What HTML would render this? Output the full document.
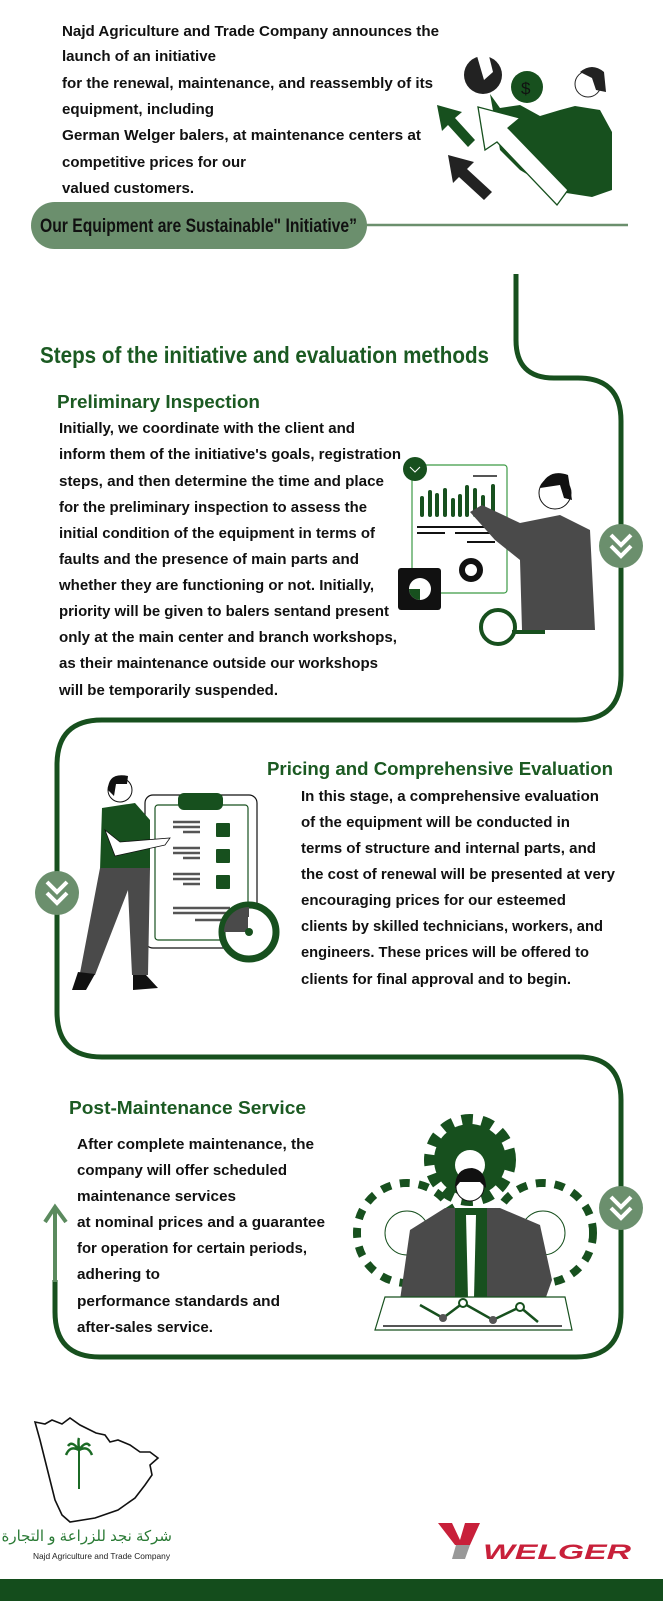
<!DOCTYPE html>
<html><head><meta charset="utf-8"><style>
html,body{margin:0;padding:0;background:#fff;}
body{position:relative;width:663px;height:1601px;overflow:hidden;}
svg{display:block;}
text{font-family:"Liberation Sans",sans-serif;}
.b{font-weight:bold;font-size:14.5px;fill:#111;}
.h{font-weight:bold;fill:#1b5a22;font-size:18.5px;}
#ar{position:absolute;left:30px;top:1528px;width:142px;text-align:center;direction:rtl;font-family:"Liberation Sans","Noto Sans CJK SC","DejaVu Sans",sans-serif;font-size:15px;line-height:18px;color:#2a7a35;white-space:nowrap;}
</style></head><body>
<svg width="663" height="1601" viewBox="0 0 663 1601" xmlns="http://www.w3.org/2000/svg">
<text x="62" y="36" textLength="377" lengthAdjust="spacingAndGlyphs" class="b">Najd Agriculture and Trade Company announces the</text>
<text x="62" y="61" textLength="154" lengthAdjust="spacingAndGlyphs" class="b">launch of an initiative</text>
<text x="62" y="88" textLength="371" lengthAdjust="spacingAndGlyphs" class="b">for the renewal, maintenance, and reassembly of its</text>
<text x="62" y="114" textLength="152" lengthAdjust="spacingAndGlyphs" class="b">equipment, including</text>
<text x="62" y="140" textLength="359" lengthAdjust="spacingAndGlyphs" class="b">German Welger balers, at maintenance centers at</text>
<text x="62" y="167" textLength="184" lengthAdjust="spacingAndGlyphs" class="b">competitive prices for our</text>
<text x="62" y="193" textLength="132" lengthAdjust="spacingAndGlyphs" class="b">valued customers.</text>
<rect x="31" y="202" width="336" height="47" rx="23.5" fill="#6b8f6d"/>
<line x1="366" y1="225" x2="628" y2="225" stroke="#6b8f6d" stroke-width="2.5"/>
<text x="40" y="232" textLength="317" lengthAdjust="spacingAndGlyphs" style="font-weight:bold;font-size:19px;fill:#111">Our Equipment are Sustainable" Initiative”</text>

<g>
<polygon points="437,105 462,112 455,118 475,140 468,147 448,125 442,131" fill="#17501e"/>
<polygon points="448,155 474,162 467,169 492,192 484,200 459,177 453,183" fill="#222"/>
<circle cx="483" cy="75" r="19" fill="#222"/>
<polygon points="477,56 489,56 493,72 484,80" fill="#fff"/>
<path d="M490,94 L500,108 L520,105 L540,116 L560,110 L575,106 L600,110 L612,132 L612,190 L592,197 L560,192 L545,185 L520,170 L500,150 Z" fill="#17501e"/>
<circle cx="527" cy="87" r="16" fill="#17501e"/>
<text x="521" y="94" style="font-size:17px;fill:#111">$</text>
<circle cx="588" cy="84" r="13" fill="#fff" stroke="#222" stroke-width="1"/>
<path d="M580,72 Q592,62 604,72 L606,92 L596,90 L592,78 Z" fill="#222"/>
<path d="M478,107 L520,118 L508,128 L568,190 L557,205 L497,142 L485,150 Z" fill="#fff" stroke="#17501e" stroke-width="1.3"/>
</g>

<path d="M516,274 V340 Q516,378 554,378 H578 Q621,378 621,421 V675 Q621,720 576,720 H102 Q57,720 57,765 V1012 Q57,1057 102,1057 H578 Q621,1057 621,1100 V1312 Q621,1357 576,1357 H100 Q55,1357 55,1312 V1280" fill="none" stroke="#17501e" stroke-width="5"/>
<path d="M55,1282 V1210 M45,1222 L55,1207 L66,1222" fill="none" stroke="#5b8a5e" stroke-width="4"/>

<text x="40" y="363" textLength="449" lengthAdjust="spacingAndGlyphs" style="font-weight:bold;font-size:23px;fill:#1b5a22">Steps of the initiative and evaluation methods</text>

<circle cx="621" cy="546" r="22" fill="#6b8f6d"/>
<path d="M611,535 L621,545 L631,535 M611,546 L621,556 L631,546" fill="none" stroke="#fff" stroke-width="4"/>
<circle cx="57" cy="893" r="22" fill="#6b8f6d"/>
<path d="M47,882 L57,892 L67,882 M47,893 L57,903 L67,893" fill="none" stroke="#fff" stroke-width="4"/>
<circle cx="621" cy="1208" r="22" fill="#6b8f6d"/>
<path d="M611,1197 L621,1207 L631,1197 M611,1208 L621,1218 L631,1208" fill="none" stroke="#fff" stroke-width="4"/>

<text x="57" y="408" textLength="203" lengthAdjust="spacingAndGlyphs" class="h">Preliminary Inspection</text>
<text x="59" y="433" textLength="296" lengthAdjust="spacingAndGlyphs" class="b">Initially, we coordinate with the client and</text>
<text x="59" y="459" textLength="342" lengthAdjust="spacingAndGlyphs" class="b">inform them of the initiative's goals, registration</text>
<text x="59" y="486" textLength="325" lengthAdjust="spacingAndGlyphs" class="b">steps, and then determine the time and place</text>
<text x="59" y="512" textLength="308" lengthAdjust="spacingAndGlyphs" class="b">for the preliminary inspection to assess the</text>
<text x="59" y="538" textLength="316" lengthAdjust="spacingAndGlyphs" class="b">initial condition of the equipment in terms of</text>
<text x="59" y="564" textLength="300" lengthAdjust="spacingAndGlyphs" class="b">faults and the presence of main parts and</text>
<text x="59" y="590" textLength="315" lengthAdjust="spacingAndGlyphs" class="b">whether they are functioning or not. Initially,</text>
<text x="59" y="616" textLength="330" lengthAdjust="spacingAndGlyphs" class="b">priority will be given to balers sentand present</text>
<text x="59" y="642" textLength="338" lengthAdjust="spacingAndGlyphs" class="b">only at the main center and branch workshops,</text>
<text x="59" y="668" textLength="319" lengthAdjust="spacingAndGlyphs" class="b">as their maintenance outside our workshops</text>
<text x="59" y="695" textLength="219" lengthAdjust="spacingAndGlyphs" class="b">will be temporarily suspended.</text>

<g>
<rect x="412" y="465" width="95" height="128" rx="3" fill="#fff" stroke="#3c9a45" stroke-width="1.2"/>
<circle cx="415" cy="469" r="12" fill="#17501e"/>
<path d="M410,467 L415,472 L420,467" stroke="#fff" fill="none" stroke-width="1"/>
<line x1="473" y1="476" x2="497" y2="476" stroke="#555" stroke-width="2"/>
<g stroke="#17501e" stroke-width="4" stroke-linecap="round">
<line x1="422" y1="498" x2="422" y2="515"/><line x1="430" y1="492" x2="430" y2="515"/><line x1="437" y1="495" x2="437" y2="515"/><line x1="445" y1="490" x2="445" y2="515"/><line x1="453" y1="500" x2="453" y2="515"/><line x1="460" y1="496" x2="460" y2="515"/><line x1="467" y1="487" x2="467" y2="515"/><line x1="475" y1="490" x2="475" y2="515"/><line x1="483" y1="497" x2="483" y2="515"/><line x1="493" y1="486" x2="493" y2="515"/>
</g>
<g stroke="#111" stroke-width="2"><line x1="417" y1="527" x2="497" y2="527"/><line x1="417" y1="533" x2="445" y2="533"/><line x1="455" y1="533" x2="497" y2="533"/><line x1="467" y1="542" x2="495" y2="542"/></g>
<circle cx="471" cy="570" r="9" fill="none" stroke="#111" stroke-width="6"/>
<rect x="398" y="568" width="43" height="42" rx="3" fill="#111"/>
<circle cx="420" cy="589" r="11" fill="#fff"/>
<path d="M420,589 V600 A11,11 0 0 1 409,589 Z" fill="#17501e"/>
<path d="M470,512 L482,505 L520,523 L560,515 L590,530 L595,630 L522,630 L520,560 L495,540 Z" fill="#4a4a4a"/>
<circle cx="555" cy="493" r="16" fill="#fff" stroke="#111" stroke-width="1"/>
<path d="M540,488 Q548,468 568,475 L572,500 L564,498 L560,485 Z" fill="#111"/>
<circle cx="498" cy="627" r="17" fill="none" stroke="#17501e" stroke-width="4"/>
<line x1="512" y1="632" x2="545" y2="632" stroke="#17501e" stroke-width="4"/>
</g>

<text x="267" y="775" textLength="346" lengthAdjust="spacingAndGlyphs" class="h">Pricing and Comprehensive Evaluation</text>
<text x="301" y="801" textLength="298" lengthAdjust="spacingAndGlyphs" class="b">In this stage, a comprehensive evaluation</text>
<text x="301" y="827" textLength="269" lengthAdjust="spacingAndGlyphs" class="b">of the equipment will be conducted in</text>
<text x="301" y="853" textLength="295" lengthAdjust="spacingAndGlyphs" class="b">terms of structure and internal parts, and</text>
<text x="301" y="879" textLength="314" lengthAdjust="spacingAndGlyphs" class="b">the cost of renewal will be presented at very</text>
<text x="301" y="905" textLength="265" lengthAdjust="spacingAndGlyphs" class="b">encouraging prices for our esteemed</text>
<text x="301" y="931" textLength="302" lengthAdjust="spacingAndGlyphs" class="b">clients by skilled technicians, workers, and</text>
<text x="301" y="957" textLength="288" lengthAdjust="spacingAndGlyphs" class="b">engineers. These prices will be offered to</text>
<text x="301" y="984" textLength="270" lengthAdjust="spacingAndGlyphs" class="b">clients for final approval and to begin.</text>

<g>
<rect x="145" y="795" width="112" height="153" rx="8" fill="#fff" stroke="#111" stroke-width="1.2"/>
<rect x="155" y="805" width="93" height="135" rx="3" fill="none" stroke="#17501e" stroke-width="1.2"/>
<rect x="178" y="793" width="45" height="17" rx="6" fill="#17501e"/>
<g stroke="#555" stroke-width="2.5">
<line x1="173" y1="822" x2="200" y2="822"/><line x1="173" y1="827" x2="200" y2="827"/><line x1="183" y1="832" x2="200" y2="832"/>
<line x1="173" y1="848" x2="200" y2="848"/><line x1="173" y1="853" x2="200" y2="853"/><line x1="183" y1="858" x2="200" y2="858"/>
<line x1="173" y1="874" x2="200" y2="874"/><line x1="173" y1="879" x2="200" y2="879"/><line x1="183" y1="884" x2="200" y2="884"/>
<line x1="173" y1="908" x2="230" y2="908"/><line x1="173" y1="913" x2="230" y2="913"/><line x1="195" y1="920" x2="230" y2="920"/>
</g>
<rect x="216" y="823" width="14" height="14" rx="1" fill="#17501e"/>
<rect x="216" y="849" width="14" height="14" rx="1" fill="#17501e"/>
<rect x="216" y="875" width="14" height="14" rx="1" fill="#17501e"/>
<circle cx="249" cy="932" r="27" fill="#fff" stroke="#17501e" stroke-width="7"/>
<path d="M249,932 V907 A25,25 0 0 0 224,932 Z" fill="#4a4a4a"/>
<line x1="249" y1="932" x2="249" y2="917" stroke="#fff" stroke-width="2"/>
<circle cx="249" cy="932" r="4" fill="#17501e"/>
<path d="M102,808 L135,803 L150,820 L150,870 L100,870 Z" fill="#17501e"/>
<path d="M105,830 L115,856 L165,845 L170,838 L120,842 Z" fill="#fff" stroke="#111" stroke-width="0.8"/>
<path d="M100,868 L150,868 L148,975 L132,975 L128,890 L95,975 L80,973 Z" fill="#4a4a4a"/>
<path d="M78,972 L95,974 L86,990 L72,990 Z" fill="#111"/>
<path d="M133,975 L146,975 L158,988 L133,990 Z" fill="#111"/>
<circle cx="120" cy="790" r="12" fill="#fff" stroke="#111" stroke-width="1"/>
<path d="M108,790 Q108,772 128,776 L127,784 L116,784 L114,796 Z" fill="#111"/>
</g>

<text x="69" y="1114" textLength="237" lengthAdjust="spacingAndGlyphs" class="h">Post-Maintenance Service</text>
<text x="77" y="1149" textLength="237" lengthAdjust="spacingAndGlyphs" class="b">After complete maintenance, the</text>
<text x="77" y="1175" textLength="210" lengthAdjust="spacingAndGlyphs" class="b">company will offer scheduled</text>
<text x="77" y="1201" textLength="159" lengthAdjust="spacingAndGlyphs" class="b">maintenance services</text>
<text x="77" y="1227" textLength="248" lengthAdjust="spacingAndGlyphs" class="b">at nominal prices and a guarantee</text>
<text x="77" y="1253" textLength="230" lengthAdjust="spacingAndGlyphs" class="b">for operation for certain periods,</text>
<text x="77" y="1279" textLength="83" lengthAdjust="spacingAndGlyphs" class="b">adhering to</text>
<text x="77" y="1306" textLength="203" lengthAdjust="spacingAndGlyphs" class="b">performance standards and</text>
<text x="77" y="1332" textLength="136" lengthAdjust="spacingAndGlyphs" class="b">after-sales service.</text>

<g>
<circle cx="407" cy="1233" r="50" fill="#fff" stroke="#17501e" stroke-width="8" stroke-dasharray="10 9"/>
<circle cx="407" cy="1233" r="46" fill="#fff"/>
<circle cx="407" cy="1233" r="22" fill="none" stroke="#17501e" stroke-width="1"/>
<circle cx="543" cy="1233" r="50" fill="#fff" stroke="#17501e" stroke-width="8" stroke-dasharray="10 9"/>
<circle cx="543" cy="1233" r="46" fill="#fff"/>
<circle cx="543" cy="1233" r="22" fill="none" stroke="#17501e" stroke-width="1"/>
<circle cx="470" cy="1160" r="40" fill="none" stroke="#17501e" stroke-width="12" stroke-dasharray="11 9"/>
<circle cx="470" cy="1160" r="36" fill="#17501e"/>
<circle cx="470" cy="1165" r="15" fill="#fff"/>
<path d="M400,1300 L410,1230 L445,1208 L500,1208 L540,1225 L552,1280 L545,1300 Z" fill="#4a4a4a"/>
<rect x="455" y="1208" width="32" height="92" fill="#17501e"/>
<polygon points="466,1215 476,1215 474,1298 468,1298" fill="#fff"/>
<circle cx="470" cy="1187" r="14" fill="#fff" stroke="#111" stroke-width="1"/>
<path d="M455,1188 Q455,1168 472,1168 Q486,1170 486,1188 L480,1182 L460,1182 Z" fill="#111"/>
<path d="M375,1330 L385,1297 L565,1297 L572,1330 Z" fill="#fff" stroke="#17501e" stroke-width="1.2"/>
<line x1="383" y1="1326" x2="562" y2="1326" stroke="#555" stroke-width="2"/>
<path d="M420,1305 L443,1318 L463,1303 L493,1320 L520,1307 L538,1322" fill="none" stroke="#17501e" stroke-width="2.5"/>
<circle cx="463" cy="1303" r="4" fill="#fff" stroke="#17501e" stroke-width="2"/>
<circle cx="520" cy="1307" r="4" fill="#fff" stroke="#17501e" stroke-width="2"/>
<circle cx="443" cy="1318" r="4" fill="#555"/><circle cx="493" cy="1320" r="4" fill="#555"/>
</g>

<path d="M35,1422 L40,1440 L45,1460 L50,1480 L55,1500 L62,1515 L70,1522 L95,1518 L118,1510 L135,1498 L145,1485 L152,1475 L150,1465 L158,1458 L150,1452 L140,1452 L130,1445 L118,1440 L110,1442 L105,1435 L96,1433 L80,1425 L70,1418 L62,1424 L52,1420 L45,1424 Z" fill="none" stroke="#111" stroke-width="1.6"/>
<line x1="79" y1="1450" x2="79" y2="1489" stroke="#1b6a25" stroke-width="2"/>
<path d="M79,1450 Q70,1445 66,1455 M79,1450 Q88,1445 92,1455 M79,1450 Q72,1440 68,1446 M79,1450 Q86,1440 90,1446 M79,1450 Q78,1440 79,1438" fill="none" stroke="#1b6a25" stroke-width="2.5"/>
<text x="33" y="1559" textLength="137" lengthAdjust="spacingAndGlyphs" style="font-size:8.5px;fill:#222">Najd Agriculture and  Trade Company</text>

<polygon points="438,1523 452,1523 460,1540 465,1523 480,1523 470,1545 455,1545" fill="#c8203a"/>
<polygon points="456,1545 470,1545 465,1559 452,1559" fill="#999"/>
<text x="483" y="1559" textLength="148" lengthAdjust="spacingAndGlyphs" style="font-weight:bold;font-style:italic;font-size:21px;fill:#c8203a">WELGER</text>

<rect x="0" y="1579" width="663" height="22" fill="#144d1c"/>
</svg>
<div id="ar">شركة نجد للزراعة و التجارة</div>
</body></html>
